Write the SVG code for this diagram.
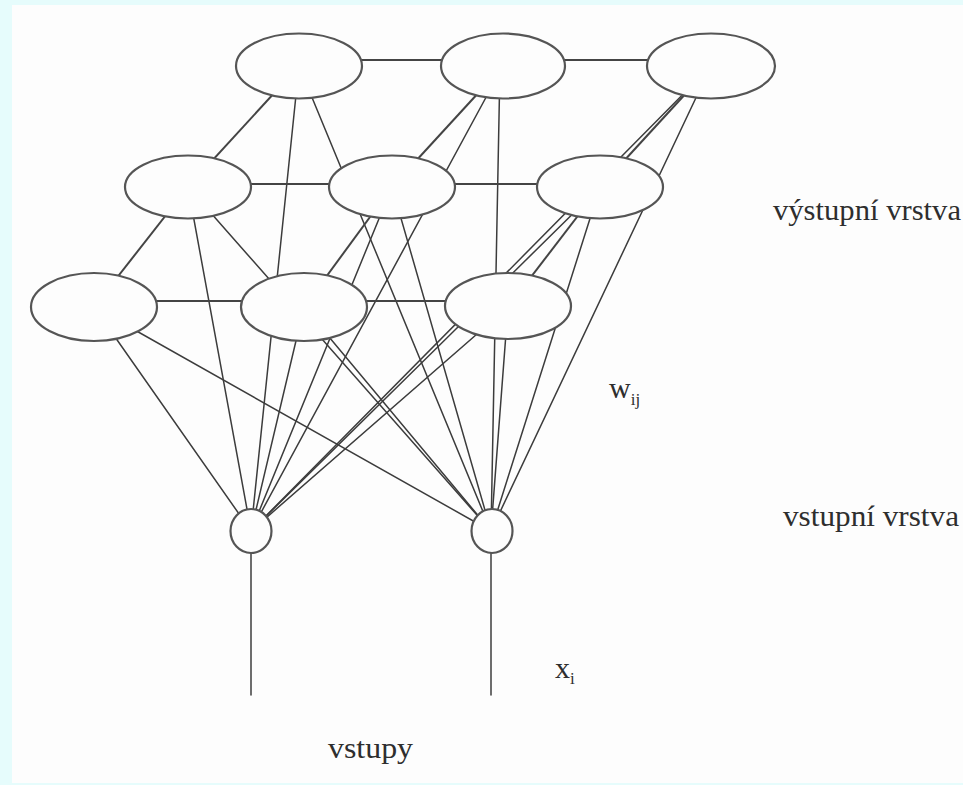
<svg xmlns="http://www.w3.org/2000/svg" width="963" height="785" viewBox="0 0 963 785">
<style>
.c{stroke:#3c3c3c;stroke-width:1.5;fill:none;stroke-linecap:round}
.g{stroke:#444;stroke-width:2;fill:none}
.n{fill:#fdfdfd;stroke:#555;stroke-width:2.2}
.t{font-family:"Liberation Serif","Times New Roman",serif;font-size:30px;fill:#2e2e2e}
.s{font-size:17px}
</style>
<rect x="0" y="0" width="963" height="785" fill="#e6fcfc"/>
<rect x="12" y="5" width="951" height="778" fill="#fdfdfd"/>
<g id="connectors">
  <line class="c" x1="251" y1="531" x2="299" y2="66"/>
  <line class="c" x1="251" y1="531" x2="503" y2="66"/>
  <line class="c" x1="251" y1="531" x2="711" y2="66"/>
  <line class="c" x1="251" y1="531" x2="188" y2="187"/>
  <line class="c" x1="251" y1="531" x2="392" y2="187"/>
  <line class="c" x1="251" y1="531" x2="600" y2="187"/>
  <line class="c" x1="251" y1="531" x2="94" y2="307"/>
  <line class="c" x1="251" y1="531" x2="304" y2="307"/>
  <line class="c" x1="251" y1="531" x2="508" y2="307"/>
  <line class="c" x1="491" y1="531" x2="299" y2="66"/>
  <line class="c" x1="491" y1="531" x2="500" y2="66"/>
  <line class="c" x1="491" y1="531" x2="711" y2="66"/>
  <line class="c" x1="491" y1="531" x2="188" y2="187"/>
  <line class="c" x1="491" y1="531" x2="392" y2="187"/>
  <line class="c" x1="491" y1="531" x2="600" y2="187"/>
  <line class="c" x1="491" y1="531" x2="94" y2="307"/>
  <line class="c" x1="491" y1="531" x2="304" y2="307"/>
  <line class="c" x1="491" y1="531" x2="508" y2="307"/>
  <line class="g" x1="299" y1="60" x2="503" y2="60"/>
  <line class="g" x1="503" y1="60" x2="711" y2="60"/>
  <line class="g" x1="188" y1="184" x2="392" y2="184"/>
  <line class="g" x1="392" y1="184" x2="600" y2="184"/>
  <line class="g" x1="94" y1="301" x2="304" y2="301"/>
  <line class="g" x1="304" y1="301" x2="508" y2="301"/>
  <line class="g" x1="299" y1="66" x2="188" y2="187"/>
  <line class="g" x1="503" y1="66" x2="392" y2="187"/>
  <line class="g" x1="711" y1="66" x2="600" y2="187"/>
  <line class="g" x1="188" y1="187" x2="94" y2="307"/>
  <line class="g" x1="392" y1="187" x2="304" y2="307"/>
  <line class="g" x1="600" y1="187" x2="508" y2="307"/>
  <line class="c" x1="251" y1="553" x2="251" y2="695"/>
  <line class="c" x1="491" y1="553" x2="491" y2="695"/>
</g>
<g id="out-1-1"><ellipse class="n" cx="299" cy="66" rx="63" ry="32.5"/></g>
<g id="out-1-2"><ellipse class="n" cx="503" cy="66" rx="62" ry="32.5"/></g>
<g id="out-1-3"><ellipse class="n" cx="711" cy="66" rx="64" ry="32.5"/></g>
<g id="out-2-1"><ellipse class="n" cx="188" cy="187" rx="63" ry="31.5"/></g>
<g id="out-2-2"><ellipse class="n" cx="392" cy="187" rx="63" ry="31.5"/></g>
<g id="out-2-3"><ellipse class="n" cx="600" cy="187" rx="63" ry="31.5"/></g>
<g id="out-3-1"><ellipse class="n" cx="94" cy="307" rx="63" ry="34"/></g>
<g id="out-3-2"><ellipse class="n" cx="304" cy="307" rx="63" ry="34"/></g>
<g id="out-3-3"><ellipse class="n" cx="508" cy="306" rx="63" ry="33"/></g>
<g id="in-1"><ellipse class="n" cx="251" cy="531" rx="20.5" ry="22" stroke-width="1.8"/></g>
<g id="in-2"><ellipse class="n" cx="492" cy="531" rx="20.5" ry="22" stroke-width="1.8"/></g>
<g id="labels">
  <text class="t" x="773" y="220" textLength="188" lengthAdjust="spacingAndGlyphs">výstupní vrstva</text>
  <text class="t" x="609" y="398">w<tspan class="s" dy="7">ij</tspan></text>
  <text class="t" x="783" y="526" textLength="176" lengthAdjust="spacingAndGlyphs">vstupní vrstva</text>
  <text class="t" x="555" y="678">x<tspan class="s" dy="6">i</tspan></text>
  <text class="t" x="328" y="758" textLength="85" lengthAdjust="spacingAndGlyphs">vstupy</text>
</g>
</svg>
